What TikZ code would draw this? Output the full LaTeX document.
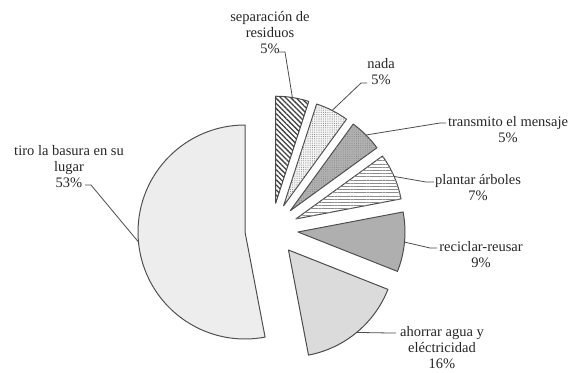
\documentclass[tikz,border=0pt]{standalone}
\usepackage{fontspec}
\setmainfont{Liberation Serif}
\usetikzlibrary{patterns.meta}

\tikzset{every node/.style={align=center, inner sep=0pt, text=black!85, font=\rmfamily\fontsize{14.5}{16}\selectfont}}
\tikzset{slice/.style={draw=black!70, line width=1pt, line join=round},
	leader/.style={draw=black!70, line width=0.8pt},
	sepfill/.style={fill=white, postaction={pattern={Lines[angle=-45,distance=3.6pt,line width=1.3pt]}, pattern color=black!75}},
	nadafill/.style={fill=black!4, postaction={pattern={Dots[distance=2.2pt,radius=0.55pt]}, pattern color=black!45}},
	transfill/.style={fill=black!30, postaction={pattern={Dots[distance=2.2pt,radius=0.5pt]}, pattern color=black!50}},
	plantfill/.style={fill=white, postaction={pattern={Lines[angle=0,distance=3.2pt,line width=0.6pt]}, pattern color=black!45}},
	recicfill/.style={fill=black!30, postaction={pattern={Dots[distance=2pt,radius=0.4pt]}, pattern color=black!40}},
	ahorrfill/.style={fill=black!14},
	tirofill/.style={fill=black!5, postaction={pattern={Dots[distance=2pt,radius=0.35pt]}, pattern color=black!25}}}

\begin{document}
\begin{tikzpicture}[x=1pt, y=1pt]
			\useasboundingbox (0,0) rectangle (575,372);
			% Pie centre (slices pulled out from it)
			\coordinate (C) at (271.5,142.5);
			
			% Slices
			\draw[slice, sepfill] ([shift={(81:26.6pt)}]C) -- ++(72:107pt) arc[start angle=72, end angle=90, radius=107pt] -- cycle;
			\draw[slice, nadafill] ([shift={(63:26.6pt)}]C) -- ++(54:107pt) arc[start angle=54, end angle=72, radius=107pt] -- cycle;
			\draw[slice, transfill] ([shift={(45:26.6pt)}]C) -- ++(36:107pt) arc[start angle=36, end angle=54, radius=107pt] -- cycle;
			\draw[slice, plantfill] ([shift={(23.4:26.6pt)}]C) -- ++(10.8:107pt) arc[start angle=10.8, end angle=36, radius=107pt] -- cycle;
			\draw[slice, recicfill] ([shift={(-5.4:26.6pt)}]C) -- ++(-21.6:107pt) arc[start angle=-21.6, end angle=10.8, radius=107pt] -- cycle;
			\draw[slice, ahorrfill] ([shift={(-50.4:26.6pt)}]C) -- ++(-79.2:107pt) arc[start angle=-79.2, end angle=-21.6, radius=107pt] -- cycle;
			\draw[slice, tirofill] ([shift={(185.4:26.6pt)}]C) -- ++(90:107pt) arc[start angle=90, end angle=280.8, radius=107pt] -- cycle;
			
			% Arc midpoints where the leaders start
			\coordinate (sepM) at ([shift={(81:133.6pt)}]C);
			\coordinate (nadaM) at ([shift={(63:133.6pt)}]C);
			\coordinate (transM) at ([shift={(45:133.6pt)}]C);
			\coordinate (plantM) at ([shift={(23.4:133.6pt)}]C);
			\coordinate (recicM) at ([shift={(-5.4:133.6pt)}]C);
			\coordinate (ahorrM) at ([shift={(-50.4:133.6pt)}]C);
			\coordinate (tiroM) at ([shift={(185.4:133.6pt)}]C);
			
			% Labels
			\node (sep) at (270,339.5) {separación de\\residuos\\5\%};
			\node (nada) at (381,300.5) {nada\\5\%};
			\node (trans) at (508,242) {transmito el mensaje\\5\%};
			\node (plant) at (478,184) {plantar árboles\\7\%};
			\node (recic) at (481,117) {reciclar-reusar\\9\%};
			\node (ahorr) at (442,24) {ahorrar agua y\\eléctricidad\\16\%};
			\node (tiro) at (69,205) {tiro la basura en su\\lugar\\53\%};
			
			% Leader elbows and ends
			\coordinate (sepK) at (285,320); \coordinate (sepE) at (279,320);
			\coordinate (nadaK) at (361,289); \coordinate (nadaE) at (367,289);
			\coordinate (transK) at (440,249); \coordinate (transE) at (446,249);
			\coordinate (plantK) at (426,190); \coordinate (plantE) at (434,190);
			\coordinate (recicK) at (430,124); \coordinate (recicE) at (437,124);
			\coordinate (ahorrK) at (390,39); \coordinate (ahorrE) at (396,39);
			\coordinate (tiroK) at (91,187); \coordinate (tiroE) at (85,187);
			
			% Leaders
			\draw[leader] (sepM) -- (sepK) -- (sepE);
			\draw[leader] (nadaM) -- (nadaK) -- (nadaE);
			\draw[leader] (transM) -- (transK) -- (transE);
			\draw[leader] (plantM) -- (plantK) -- (plantE);
			\draw[leader] (recicM) -- (recicK) -- (recicE);
			\draw[leader] (ahorrM) -- (ahorrK) -- (ahorrE);
			\draw[leader] (tiroM) -- (tiroK) -- (tiroE);
		\end{tikzpicture}
\end{document}
